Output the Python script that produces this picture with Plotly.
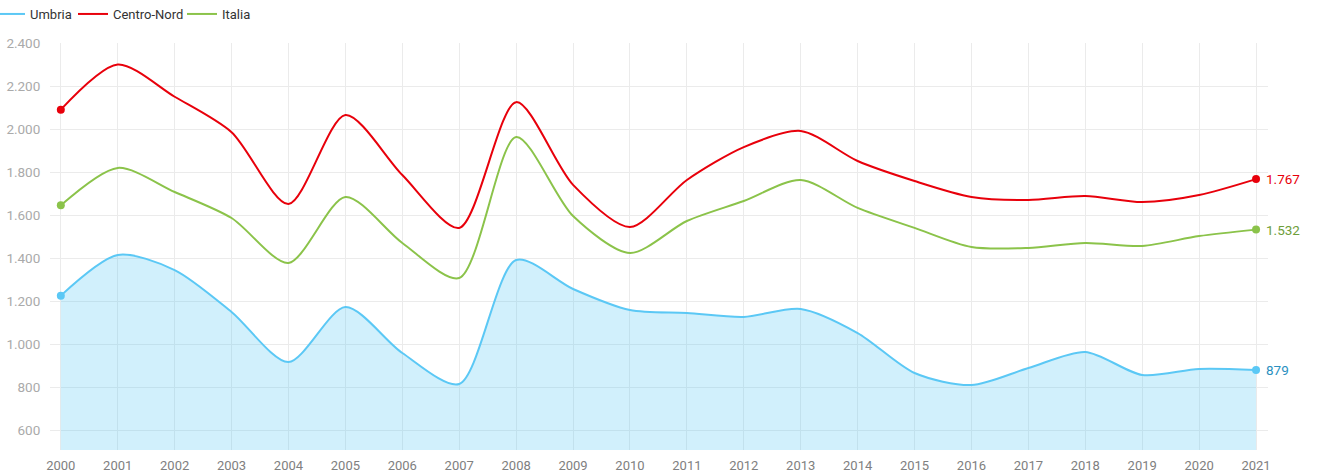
import plotly.graph_objects as go

years = list(range(2000, 2022))
umbria = [1225, 1414, 1344, 1149, 916, 1172, 958, 814, 1391, 1256, 1158, 1144, 1126, 1163, 1051, 865, 809, 888, 963, 856, 884, 879]
centro_nord = [2090, 2300, 2150, 1985, 1651, 2065, 1786, 1540, 2125, 1740, 1544, 1763, 1916, 1991, 1851, 1758, 1684, 1670, 1688, 1660, 1693, 1767]
italia = [1645, 1819, 1707, 1586, 1377, 1684, 1470, 1307, 1963, 1595, 1423, 1572, 1665, 1763, 1633, 1540, 1451, 1447, 1470, 1456, 1502, 1532]
end_labels = ["879", "1.767", "1.532"]
y_ticks = [600, 800, 1000, 1200, 1400, 1600, 1800, 2000, 2200, 2400]
y_tick_text = ["600", "800", "1.000", "1.200", "1.400", "1.600", "1.800", "2.000", "2.200", "2.400"]

series = [
    ("Umbria", umbria, "#5bc8f5", "#2a90c0"),
    ("Centro-Nord", centro_nord, "#e8000b", "#e8000b"),
    ("Italia", italia, "#8bc34a", "#6e9e3a"),
]
legend_ids = ["legend", "legend2", "legend3"]
legend_left_px = [-10, 73, 182]

fig = go.Figure()
for i, (name, vals, col, lab) in enumerate(series):
    fig.add_trace(go.Scatter(
        x=years, y=vals, name=name, mode="lines", showlegend=False,
        line=dict(color=col, width=2, shape="spline", smoothing=0.8),
        fill="tozeroy" if name == "Umbria" else None,
        fillcolor="rgba(91,200,245,0.28)" if name == "Umbria" else None,
        hoverinfo="skip",
    ))
    fig.add_trace(go.Scatter(
        x=[years[0], years[-1]], y=[vals[0], vals[-1]], mode="markers",
        marker=dict(color=col, size=8), showlegend=False, hoverinfo="skip",
    ))
    fig.add_annotation(x=years[-1], y=vals[-1], text=end_labels[i], showarrow=False,
                       xanchor="left", xshift=8, font=dict(color=lab, size=13.5, family="Roboto"))

for i, (name, vals, col, lab) in enumerate(series):
    fig.add_trace(go.Scatter(x=[None], y=[None], name=name, mode="lines",
                             line=dict(color=col, width=2), hoverinfo="skip",
                             legend=legend_ids[i]))

legend_common = dict(orientation="h", xref="paper", yref="container",
                     xanchor="left", y=1 - 14 / 474, yanchor="middle",
                     font=dict(color="#333333", size=13), itemwidth=30,
                     bgcolor="rgba(0,0,0,0)")
legends = {lid: dict(legend_common, x=(px - 50) / 1218) for lid, px in zip(legend_ids, legend_left_px)}

fig.update_layout(
    width=1317, height=474,
    margin=dict(l=50, r=49, t=43, b=24, autoexpand=False),
    paper_bgcolor="white", plot_bgcolor="white",
    font=dict(family="Roboto", size=13, color="#999999"),
    showlegend=True,
    xaxis=dict(range=[1999.81, 2021.21], tickmode="array", tickvals=years,
               ticktext=[str(y) for y in years], showgrid=True, gridcolor="#ebebeb",
               zeroline=False, showline=False, ticks="outside", ticklen=3,
               tickcolor="rgba(0,0,0,0)", automargin=False,
               tickfont=dict(color="#808080", size=13)),
    yaxis=dict(range=[507, 2400], tickmode="array", tickvals=y_ticks, ticktext=y_tick_text,
               showgrid=True, gridcolor="#ebebeb", zeroline=False, showline=False,
               ticks="outside", ticklen=6, tickcolor="rgba(0,0,0,0)", automargin=False,
               tickfont=dict(color="#aaaaaa", size=13.5)),
    **legends,
)

fig.write_html("out.html", config={"displayModeBar": False},
               post_script="document.body.style.margin='0';document.body.style.overflow='hidden';")
